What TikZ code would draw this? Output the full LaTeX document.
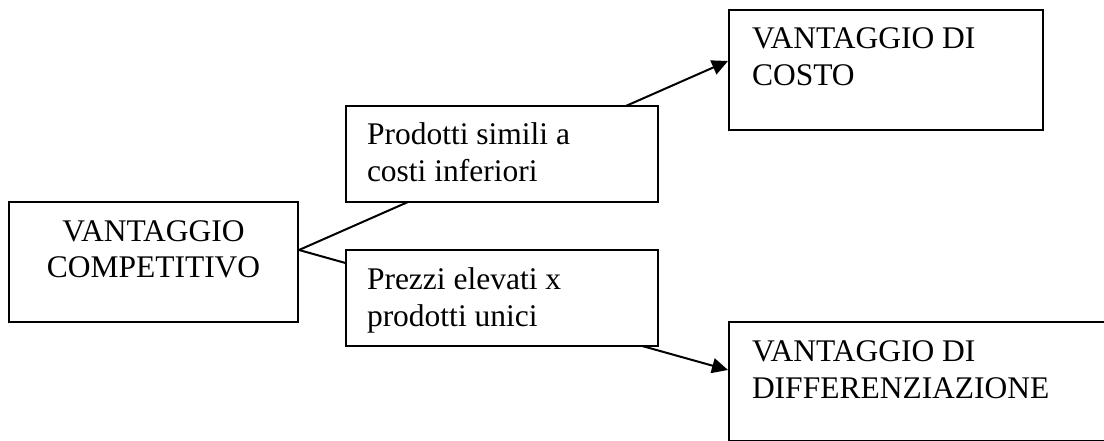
\documentclass[tikz,border=0pt]{standalone}
\usepackage{fontspec}
\setmainfont{Liberation Serif}
\usetikzlibrary{arrows.meta}
\newcommand{\boxtxt}[4]{\parbox[c][#2][t]{#1}{#3\rule{0pt}{39pt}#4}}
\tikzset{
  boxnode/.style={draw, line width=2pt, fill=white, inner xsep=23pt, inner ysep=0pt,
    anchor=north west, font=\fontsize{31.5pt}{37pt}\selectfont},
  conn/.style={line width=2pt, -{Triangle[length=16pt,width=15pt]}}
}
\begin{document}
\begin{tikzpicture}[x=1pt,y=-1pt]
\useasboundingbox (0,0) rectangle (1104,441);
\node[boxnode] (cv) at (8,201) {\boxtxt{243pt}{120pt}{\centering}{VANTAGGIO\\COMPETITIVO}};
\node[boxnode] (cost) at (728,9) {\boxtxt{268pt}{120pt}{\raggedright}{VANTAGGIO DI\\COSTO}};
\node[boxnode] (diff) at (728,321) {\boxtxt{336pt}{119pt}{\raggedright}{VANTAGGIO DI\\DIFFERENZIAZIONE}};
\coordinate (j) at ([yshift=12pt]cv.east);
\draw[conn] (j) -- ([yshift=9pt]cost.west);
\draw[conn] (j) -- ([yshift=11.5pt]diff.west);
\node[boxnode, inner xsep=21pt] (mt) at (345,105) {\boxtxt{270pt}{96pt}{\raggedright}{Prodotti simili a\\costi inferiori}};
\node[boxnode, inner xsep=21pt] (mb) at (345,249) {\boxtxt{270pt}{96pt}{\raggedright}{Prezzi elevati x\\prodotti unici}};
\end{tikzpicture}
\end{document}
